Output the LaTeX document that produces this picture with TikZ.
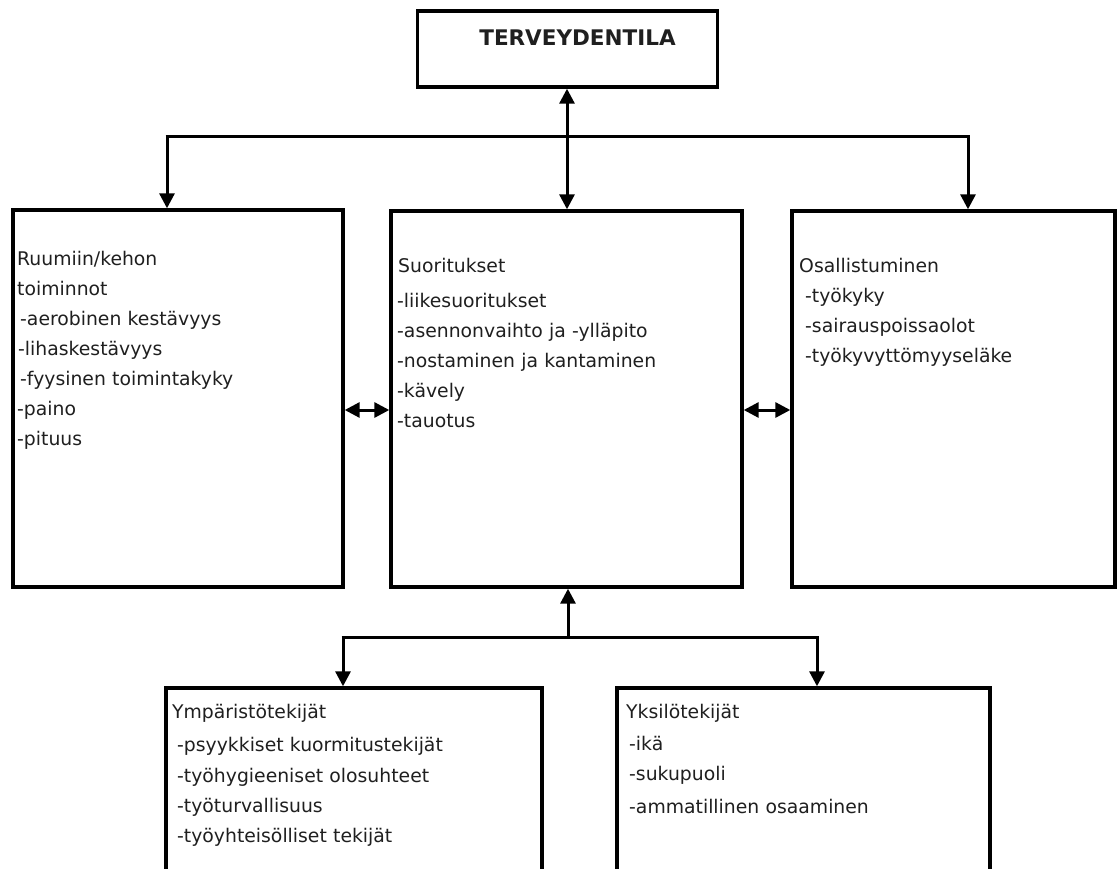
\documentclass[tikz,border=0pt]{standalone}
\usepackage{fontspec}
\setmainfont{DejaVu Sans}
\usetikzlibrary{arrows.meta}
\begin{document}
\begin{tikzpicture}[x=1pt,y=-1pt,
  box/.style={draw=black,line width=3.4pt,fill=white,inner sep=0pt,minimum width=#1},
  tip/.style={},
  conn/.style={line width=3pt,-{Triangle[length=15pt,width=15pt]}},
  dconn/.style={line width=3pt,{Triangle[length=15pt,width=15pt]}-{Triangle[length=15pt,width=15pt]}},
  plain/.style={line width=3pt},
  body/.style={anchor=base west,inner sep=0pt,text width=340pt,align=left,
    text=black!88,font=\fontsize{18.8}{30}\selectfont},
]
\useasboundingbox[fill=white] (0,0) rectangle (1117,868);
\clip (0,0) rectangle (1117,868);

% boxes
\node[box=300pt,minimum height=76pt] (top) at (567.5,49) {};
\node[box=330pt,minimum height=377pt] (left) at (178,398.5) {};
\node[box=351pt,minimum height=376pt] (mid) at (566.5,399) {};
\node[box=323pt,minimum height=376pt] (right) at (953.5,399) {};
\node[box=376pt,minimum height=260pt] (env) at (354,818) {};
\node[box=373pt,minimum height=260pt] (ind) at (803.5,818) {};

% texts
\node[anchor=base,inner sep=0pt,text=black!88,font=\fontsize{21.5}{24}\selectfont\bfseries] (title) at (577.5,45) {TERVEYDENTILA};
\node[body] (ltext) at (17,265) {Ruumiin/kehon\\toiminnot\\\hspace{3pt}-aerobinen kestävyys\\\hspace{1pt}-lihaskestävyys\\\hspace{3pt}-fyysinen toimintakyky\\-paino\\-pituus};
\node[body] (mtext) at (397,272) {\hspace{1pt}Suoritukset\\[5pt]-liikesuoritukset\\-asennonvaihto ja -ylläpito\\-nostaminen ja kantaminen\\-kävely\\-tauotus};
\node[body] (rtext) at (799,272) {Osallistuminen\\\hspace{6pt}-työkyky\\\hspace{6pt}-sairauspoissaolot\\\hspace{6pt}-työkyvyttömyyseläke};
\node[body] (etext) at (172,718) {Ympäristötekijät\\[3pt]\hspace{5pt}-psyykkiset kuormitustekijät\\[1pt]\hspace{5pt}-työhygieeniset olosuhteet\\\hspace{5pt}-työturvallisuus\\\hspace{5pt}-työyhteisölliset tekijät};
\node[body] (itext) at (626,718) {Yksilötekijät\\[2pt]\hspace{3pt}-ikä\\\hspace{3pt}-sukupuoli\\[3pt]\hspace{3pt}-ammatillinen osaaminen};

% upper connectors
\coordinate (hub) at (567,136);
\coordinate (lcorner) at (167,136);
\coordinate (rcorner) at (968,136);
\draw[dconn] (top.south -| hub) -- (mid.north -| hub);
\draw[plain] ([xshift=-1.5pt]lcorner) -- ([xshift=1.5pt]rcorner);
\draw[conn] (lcorner) -- (left.north -| lcorner);
\draw[conn] (rcorner) -- (right.north -| rcorner);

% side connectors
\coordinate (row) at (0,410);
\draw[dconn] (left.east |- row) -- (mid.west |- row);
\draw[dconn] (mid.east |- row) -- (right.west |- row);

% lower connectors
\coordinate (bhub) at (568,637);
\coordinate (blcorner) at (343,637);
\coordinate (brcorner) at (817,637);
\draw[conn] (bhub) -- (mid.south -| bhub);
\draw[plain] ([xshift=-1.5pt]blcorner) -- ([xshift=1.5pt]brcorner);
\draw[conn] (blcorner) -- (env.north -| blcorner);
\draw[conn] (brcorner) -- (ind.north -| brcorner);
\end{tikzpicture}
\end{document}
